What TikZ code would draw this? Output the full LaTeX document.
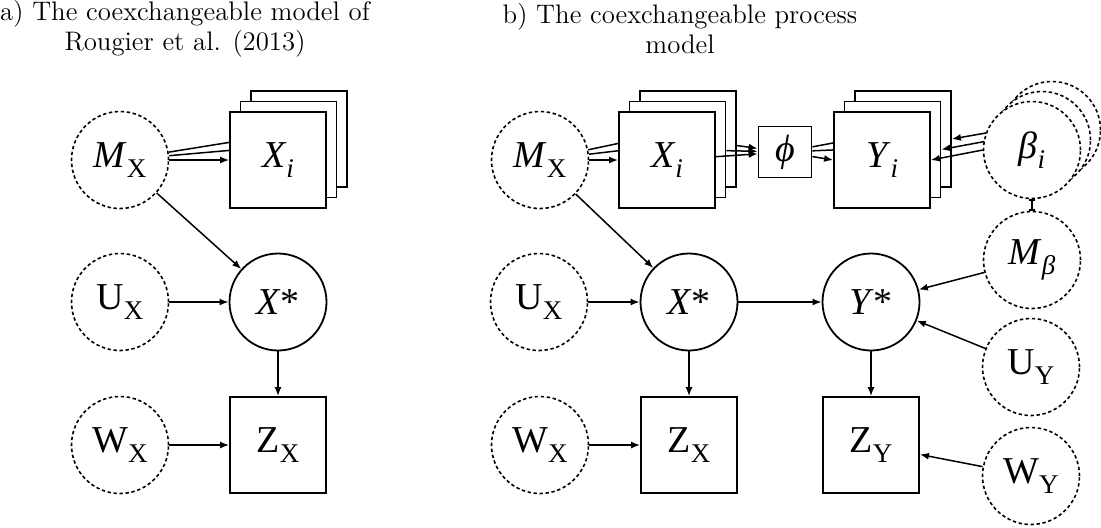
\documentclass[tikz,border=0pt]{standalone}
\usepackage{fontspec}
\setmainfont{Liberation Serif}
\newfontfamily\headfont{Latin Modern Roman}
\usepackage{tikz}
\usetikzlibrary{arrows.meta,backgrounds}

\pgfdeclarelayer{foreground}
\pgfsetlayers{background,main,foreground}

% lowered index for the variable names
\newcommand{\lowidx}[1]{\raisebox{-0.26em}{\fontsize{13.5}{15}\selectfont #1}}

\tikzset{
  var/.style={circle, draw, line width=0.9pt, minimum size=48.5pt, inner sep=0pt,
    fill=white, font=\fontsize{19}{22}\selectfont},
  hyper/.style={var, line width=0.8pt, dash pattern=on 1.7pt off 1.3pt},
  obs/.style={var, rectangle, minimum size=48pt},
  fn/.style={obs, minimum width=26.5pt, minimum height=25.5pt},
  link/.style={-{Latex[length=4.5pt,width=3.5pt]}, line width=0.75pt},
  heading/.style={align=center, font=\headfont\fontsize{13.4}{15}\selectfont},
}

\begin{document}
\begin{tikzpicture}[x=0.5pt,y=-0.5pt]
    \useasboundingbox (0,0) rectangle (1101,527);

    % Titles
    \node[heading] (heada) at (185,29) {a) The coexchangeable model of\\Rougier et al. (2013)};
    \node[heading] (headb) at (680,29) {b) The coexchangeable process\\model};

    % a) left column
    \node[hyper] (mxa) at (120,160) {\textit{M}\lowidx{X}};
    \node[hyper] (uxa) at (120,302) {U\lowidx{X}};
    \node[hyper] (wxa) at (120,445) {W\lowidx{X}};

    % a) stack of runs and the true system
    \node[obs] (xa3) at (299,139) {};
    \node[obs] (xa2) at (288.5,149.5) {};
    \node[obs] (xa1) at (278,160) {\textit{X}\lowidx{\textit{i}}};
    \node[var] (xsa) at (278,302) {\textit{X}*};
    \node[obs] (zxa) at (278,445) {Z\lowidx{X}};

    % a) edges
    \begin{pgfonlayer}{background}
        \draw[link] (mxa) -- (xa3.west);
        \draw[link] (mxa) -- (xa2.west);
        \draw[link] (mxa) -- (xa1.west);
    \end{pgfonlayer}
    \draw[link] (mxa) -- (xsa);
    \draw[link] (uxa) -- (xsa);
    \draw[link] (wxa) -- (zxa);
    \draw[link] (xsa) -- (zxa);

    % b) left column
    \node[hyper] (mxb) at (540,160) {\textit{M}\lowidx{X}};
    \node[hyper] (uxb) at (539,302) {U\lowidx{X}};
    \node[hyper] (wxb) at (540,445) {W\lowidx{X}};

    % b) stack of runs
    \node[obs] (xb3) at (688,139) {};
    \node[obs] (xb2) at (677.5,149.5) {};
    \node[obs] (xb1) at (667,160) {\textit{X}\lowidx{\textit{i}}};
    \node[fn] (phi) at (785,152) {\textit{ϕ}};
    \node[obs] (yb3) at (903,139) {};
    \node[obs] (yb2) at (892.5,149.5) {};
    \node[obs] (yb1) at (882,160) {\textit{Y}\lowidx{\textit{i}}};

    % b) true system and data
    \node[var] (xsb) at (689,302) {\textit{X}*};
    \node[var] (ysb) at (871,302) {\textit{Y}*};
    \node[obs] (zxb) at (689,445) {Z\lowidx{X}};
    \node[obs] (zyb) at (871,445) {Z\lowidx{Y}};

    % b) right column
    \begin{pgfonlayer}{foreground}
        \node[hyper] (bt3) at (1052,130) {};
        \node[hyper] (bt2) at (1042,140) {};
        \node[hyper] (bt1) at (1032,150) {\textit{β}\lowidx{\textit{i}}};
    \end{pgfonlayer}
    \node[hyper] (mbt) at (1032,260) {\textit{M}\lowidx{\textit{β}}};
    \node[hyper] (uyb) at (1031,367) {U\lowidx{Y}};
    \node[hyper] (wyb) at (1031,476) {W\lowidx{Y}};

    % b) edges
    \begin{pgfonlayer}{background}
        \draw[link] (mxb) -- (xb3.west);
        \draw[link] (mxb) -- (xb2.west);
        \draw[link] (mxb) -- (xb1.west);
        \draw[link] (phi) -- (yb3.west);
        \draw[link] (phi) -- (yb2.west);
        \draw[link] (phi) -- (yb1.west);
    \end{pgfonlayer}
    \draw[link] (xb3) -- (phi);
    \draw[link] (xb2) -- (phi);
    \draw[link] (xb1) -- (phi);
    \draw[link] (bt3.west) -- (yb3.east);
    \draw[link] (bt2.west) -- (yb2.east);
    \draw[link] (bt1.west) -- (yb1.east);
    \draw[line width=0.75pt, {Bar[width=3pt]}-{Bar[width=3pt]}] (bt1) -- (mbt);

    \draw[link] (mxb) -- (xsb);
    \draw[link] (uxb) -- (xsb);
    \draw[link] (xsb) -- (ysb);
    \draw[link] (mbt) -- (ysb);
    \draw[link] (uyb) -- (ysb);
    \draw[link] (wxb) -- (zxb);
    \draw[link] (xsb) -- (zxb);
    \draw[link] (ysb) -- (zyb);
    \draw[link] (wyb) -- (zyb);
\end{tikzpicture}
\end{document}
